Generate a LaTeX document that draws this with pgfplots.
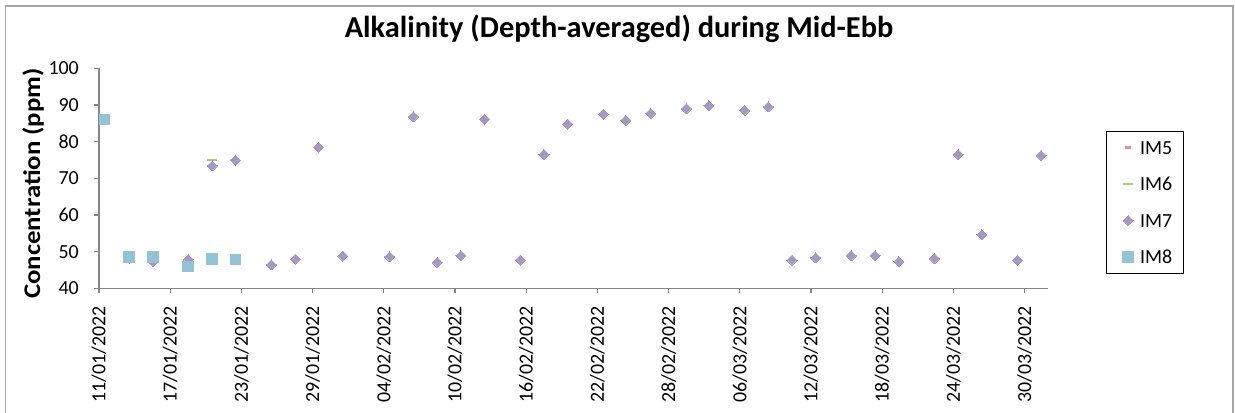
\documentclass[border=0pt]{standalone}
\usepackage{pgfplots}
\pgfplotsset{compat=1.18}
\usepackage{fontspec}
\setmainfont{Carlito}
\newfontfamily\ylabfont[FakeStretch=1.12]{Carlito}
\definecolor{cIMfive}{RGB}{218,150,148}
\definecolor{cIMsix}{RGB}{168,201,125}
\definecolor{cIMseven}{RGB}{166,153,193}
\definecolor{cIMeight}{RGB}{147,196,213}
\definecolor{axgray}{RGB}{134,134,134}
\definecolor{bordergray}{RGB}{165,165,165}
\begin{document}
\begin{tikzpicture}[x=1bp,y=1bp]
\useasboundingbox (0,0) rectangle (1235,412);
\draw[bordergray, line width=1.6bp] (5.5,-10) -- (5.5,406) -- (1232.7,406) -- (1232.7,-10);
\begin{axis}[
  at={(99bp,123.7bp)}, anchor=south west,
  scale only axis, width=949.3bp, height=220bp,
  xmin=0, xmax=80, ymin=40, ymax=100,
  axis x line*=bottom, axis y line*=left,
  axis line style={axgray, line width=1.3bp},
  every tick/.style={axgray, line width=1.3bp},
  tick align=outside, major tick length=5bp,
  xtick={0,6,...,78},
  xticklabels={11/01/2022,17/01/2022,23/01/2022,29/01/2022,04/02/2022,10/02/2022,16/02/2022,22/02/2022,28/02/2022,06/03/2022,12/03/2022,18/03/2022,24/03/2022,30/03/2022},
  xticklabel style={rotate=90, anchor=east, inner sep=0pt, xshift=-13bp, font=\fontsize{20}{24}\selectfont},
  ytick={40,50,...,100},
  yticklabel style={anchor=east, inner sep=0pt, xshift=-15bp, font=\fontsize{20}{24}\selectfont},
  /pgf/number format/assume math mode=true,
  ylabel={Concentration (ppm)},
  ylabel style={at={(axis description cs:-0.0695,0.476)}, anchor=center, rotate=0, font=\ylabfont\fontsize{24}{28}\selectfont\bfseries},
  title={\fontsize{30.5}{34}\selectfont\bfseries Alkalinity (Depth-averaged) during Mid-Ebb},
  title style={at={(axis description cs:0.5478,1.1136)}, anchor=base},
  legend style={at={(1.0605,0.715)}, anchor=north west, draw=black, line width=0.9bp,
    inner xsep=11.5bp, inner ysep=9bp, row sep=22.5bp, column sep=6.3bp,
    nodes={inner sep=0pt, text height=14bp, text depth=0pt, anchor=west},
    font=\fontsize{20}{24}\selectfont},
  legend cell align=left,
  legend image code/.code={\path[draw=none,fill=none] (-10.5bp,0) -- (5.5bp,0); \draw[#1] plot coordinates {(0bp,0bp)};},
]
\addplot[only marks, mark=-, mark size=3bp, mark options={draw=cIMfive, line width=2.2bp}]
  coordinates {(7.52,48.0) (11.5,74.7)};
\addlegendentry{IM5}
\addplot[only marks, mark=-, mark size=5bp, mark options={draw=cIMsix, line width=2.2bp}]
  coordinates {(0.45,87.2) (9.54,75.1) (11.5,75.1)};
\addlegendentry{IM6}
\addplot[only marks, mark=square*, mark size=3.55bp, mark options={rotate=45, draw=cIMseven, fill=cIMseven, line width=0pt}]
  coordinates {
  (2.55,48.2) (4.55,47.3) (7.52,47.9) (9.54,73.4) (11.5,74.9) (14.53,46.4) (16.55,47.9)
  (18.5,78.5) (20.55,48.8) (24.5,48.6) (26.5,86.8) (28.5,47.1) (30.5,48.9) (32.5,86.1)
  (35.5,47.7) (37.5,76.5) (39.5,84.8) (42.5,87.5) (44.4,85.8) (46.5,87.7) (49.5,89.0)
  (51.4,89.8) (54.4,88.5) (56.4,89.5) (58.4,47.7) (60.4,48.3) (63.4,48.9) (65.4,48.9)
  (67.4,47.3) (70.4,48.1) (72.4,76.5) (74.4,54.6) (77.4,47.7) (79.4,76.2)};
\addlegendentry{IM7}
\addplot[only marks, mark=square*, mark size=5.3bp, mark options={draw=cIMeight, fill=cIMeight, line width=0pt}]
  coordinates {(0.45,86.0) (2.55,48.6) (4.55,48.6) (7.52,45.9) (9.54,48.0) (11.5,47.9)};
\addlegendentry{IM8}
\end{axis}
\end{tikzpicture}
\end{document}
